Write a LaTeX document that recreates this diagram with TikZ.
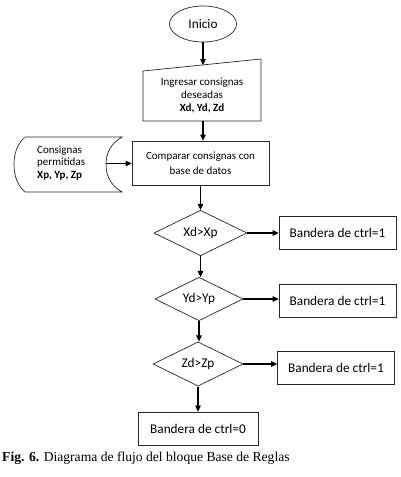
\documentclass[tikz,border=0pt]{standalone}
\usepackage{fontspec}
\setmainfont{Carlito}
\newfontfamily\capfont{Liberation Serif}
\usetikzlibrary{arrows.meta,shapes.geometric}
\begin{document}
\begin{tikzpicture}[x=1pt,y=-1pt,
  shp/.style={draw=black!85,line width=0.7pt},
  big/.style={font=\fontsize{13.3}{15}\selectfont},
  small/.style={font=\fontsize{11}{13}\selectfont},
  procbox/.style={shp,rectangle,inner sep=0pt},
  decbox/.style={shp,diamond,inner sep=0pt,minimum width=91pt,minimum height=42pt,big},
  flagbox/.style={procbox,minimum width=117pt,minimum height=33pt,big},
  conn/.style={line width=1.1pt,-{Triangle[length=6pt,width=5.5pt]}}]
\useasboundingbox (0,0) rectangle (401,477);
% start
\node[shp,ellipse,minimum width=67pt,minimum height=36pt,inner sep=0pt,big] (ini) at (203,24) {Inicio};
% manual input
\draw[shp] (143,71) -- (261,59) -- (261,121) -- (143,121) -- cycle;
\node[inner sep=0pt,minimum width=118pt,minimum height=62pt] (inp) at (203,90) {};
\node[small,align=center,inner sep=0pt] (inptxt) at (202,95.5)
  {Ingresar consignas\\deseadas\\\textbf{Xd, Yd, Zd}};
\coordinate (inptop) at (203,65);
% compare
\node[procbox,minimum width=137pt,minimum height=44pt,align=center,
  font=\fontsize{11}{15}\selectfont] (cmp) at (200.5,163) {Comparar consignas con\\base de datos};
% stored data
\draw[shp] (25,137) -- (122,137)
  .. controls (110,144) and (106,154) .. (106,164.5)
  .. controls (106,175) and (110,185) .. (122,192)
  -- (25,192)
  .. controls (17,185) and (14,175) .. (14,164.5)
  .. controls (14,154) and (17,144) .. (25,137);
\node[font=\fontsize{11}{12.5}\selectfont,align=left,anchor=west,inner sep=0pt] (sto) at (37,163)
  {Consignas\\permitidas\\\textbf{Xp, Yp, Zp}};
\coordinate (stoout) at (106,163.5);
% decisions
\node[decbox,minimum width=93pt] (d1) at (200.5,233) {Xd>Xp};
\node[decbox,minimum width=88pt,minimum height=41pt] (d2) at (199,299) {Yd>Yp};
\node[decbox,minimum width=90pt] (d3) at (198,364) {Zd>Zp};
% flags
\node[flagbox] (f1) at (337.5,233) {Bandera de ctrl=1};
\node[flagbox] (f2) at (337.5,300.5) {Bandera de ctrl=1};
\node[flagbox] (f3) at (336,368) {Bandera de ctrl=1};
\node[flagbox,minimum width=120pt] (f0) at (198,428.5) {Bandera de ctrl=0};
% connectors
\draw[conn] (ini.south) -- (inptop);
\draw[conn] (inp.south) -- (inp.south |- cmp.north);
\draw[conn] (stoout) -- (cmp.west |- stoout);
\draw[conn] (cmp.south) -- (d1.north);
\draw[conn] (d1.east) -- (f1.west);
\draw[conn] (d1.south) -- (d1.south |- d2.north);
\draw[conn] (d2.east) -- (f2.west |- d2.east);
\draw[conn] (d2.south) -- (d2.south |- d3.north);
\draw[conn] (d3.east) -- (f3.west |- d3.east);
\draw[conn] (d3.south) -- (f0.north);
% caption
\node[anchor=west,inner sep=0pt,font=\capfont\fontsize{13.6}{15}\selectfont] (cap) at (2,458)
  {\textbf{Fig. 6.} Diagrama de flujo del bloque Base de Reglas};
\end{tikzpicture}
\end{document}
